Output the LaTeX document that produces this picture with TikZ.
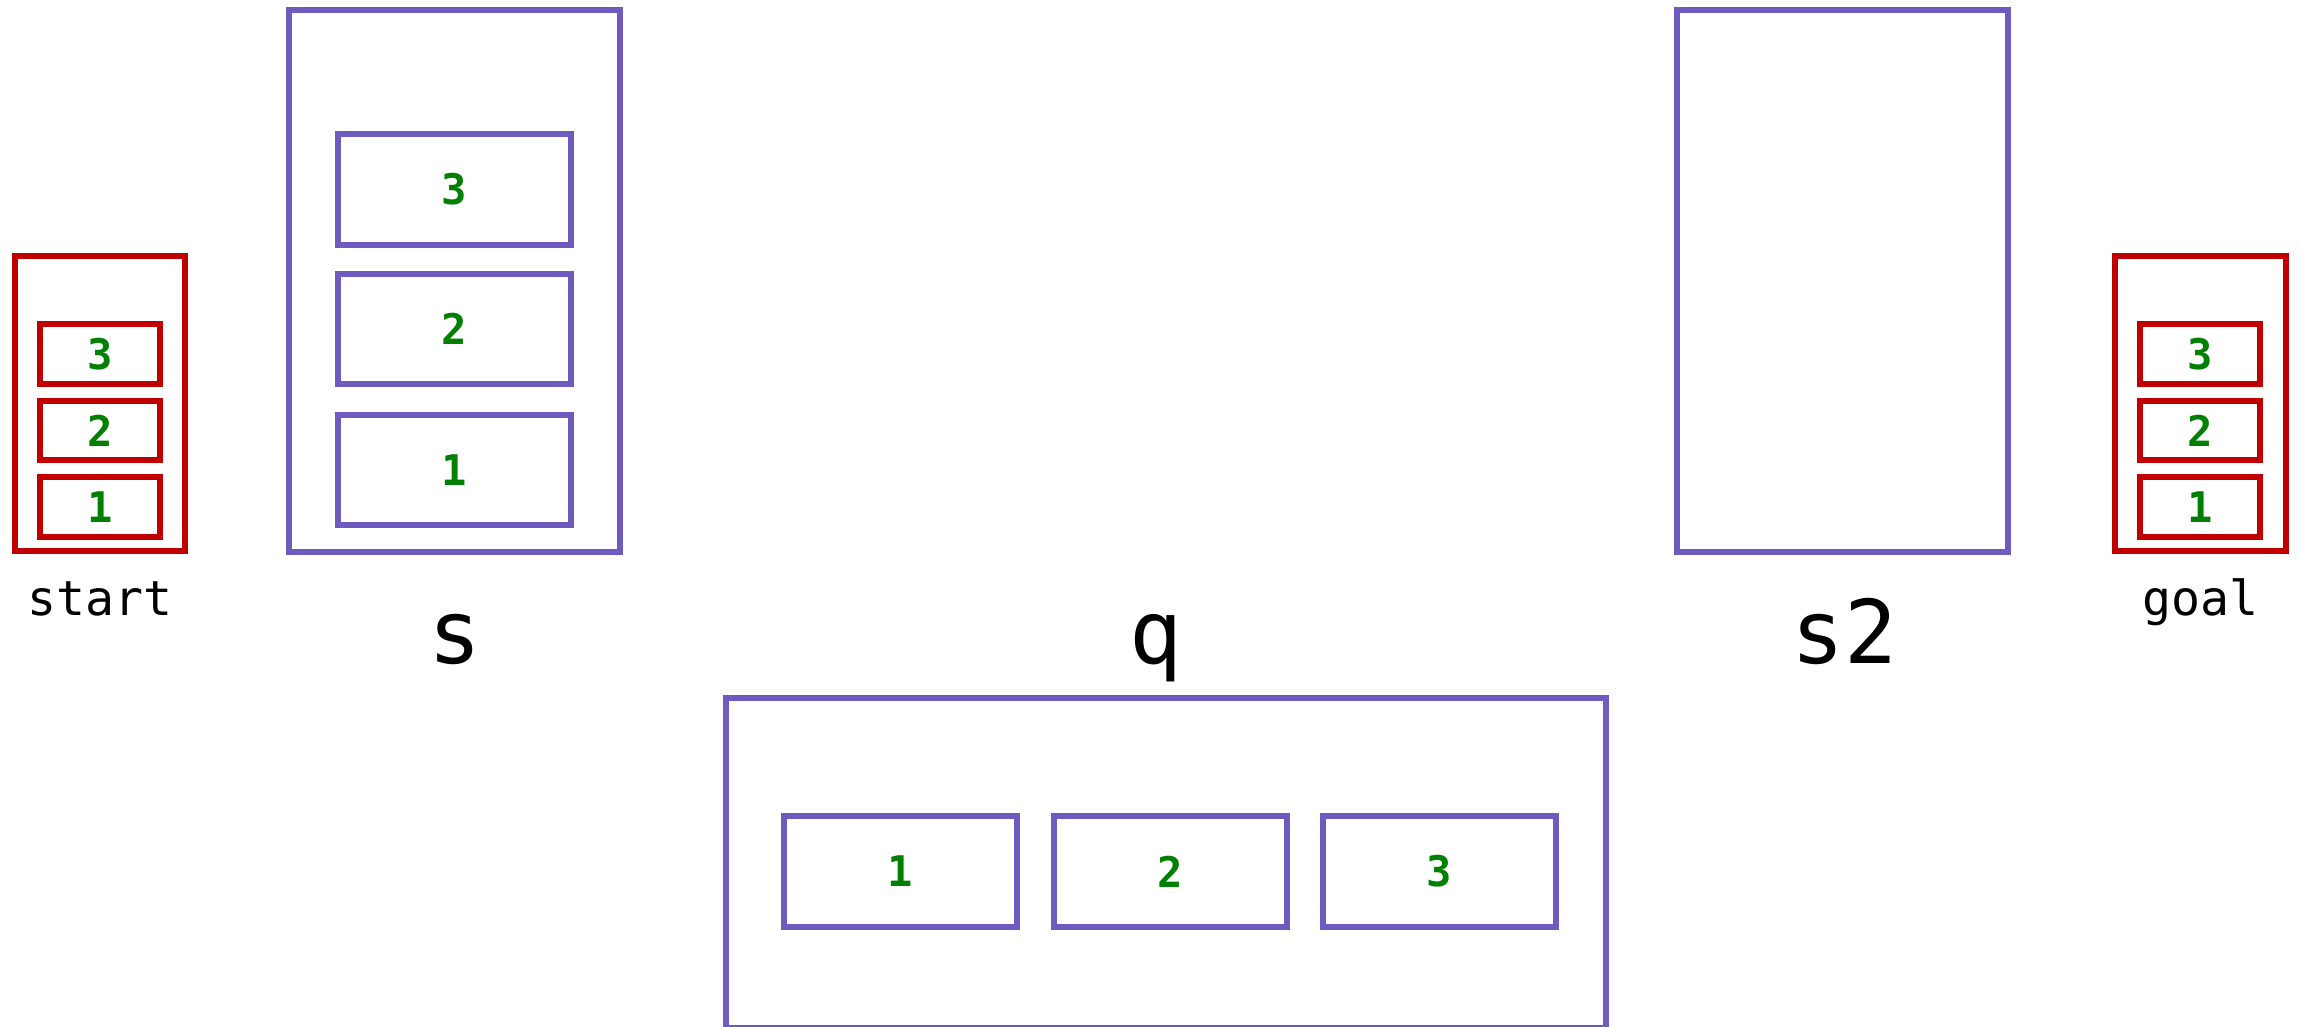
\documentclass[tikz,border=0pt]{standalone}
\usepackage{fontspec}
\setmainfont{DejaVu Sans Mono}
\setmonofont{DejaVu Sans Mono}
\definecolor{boxpurple}{HTML}{6F5BBF}
\definecolor{boxred}{HTML}{C00000}
\definecolor{digitgreen}{HTML}{008000}
\tikzset{
  frame/.style={draw, line width=0.055cm, inner sep=0pt, outer sep=0pt},
  redbox/.style={frame, draw=boxred},
  purplebox/.style={frame, draw=boxpurple},
  digit/.style={text=digitgreen, font=\fontsize{12pt}{14pt}\selectfont\bfseries},
  smalllabel/.style={anchor=base, inner sep=0pt, font=\fontsize{13.7pt}{16pt}\selectfont},
  biglabel/.style={anchor=base, inner sep=0pt, font=\fontsize{25pt}{30pt}\selectfont},
}
\begin{document}
\begin{tikzpicture}[x=0.01cm, y=-0.01cm]
\useasboundingbox[fill=white] (0,0) rectangle (2300,1026);

% start
\node[redbox, minimum width=170*0.01cm, minimum height=295*0.01cm] (start) at (100,403.5) {};
\node[redbox, digit, minimum width=120*0.01cm, minimum height=60*0.01cm] (st3) at (100,354) {3};
\node[redbox, digit, minimum width=120*0.01cm, minimum height=59*0.01cm] (st2) at (100,430.5) {2};
\node[redbox, digit, minimum width=120*0.01cm, minimum height=60*0.01cm] (st1) at (100,507) {1};
\node[smalllabel] (startlbl) at (100,615) {start};

% s
\node[purplebox, minimum width=331*0.01cm, minimum height=542*0.01cm] (s) at (454.5,281) {};
\node[purplebox, digit, minimum width=233*0.01cm, minimum height=111*0.01cm] (s3) at (454.5,189.5) {3};
\node[purplebox, digit, minimum width=233*0.01cm, minimum height=110*0.01cm] (s2b) at (454.5,329) {2};
\node[purplebox, digit, minimum width=233*0.01cm, minimum height=110*0.01cm] (s1) at (454.5,470) {1};
\node[biglabel] (slbl) at (454.5,663) {s};

% q
\node[purplebox, minimum width=880*0.01cm, minimum height=330*0.01cm] (q) at (1166,863) {};
\node[purplebox, digit, minimum width=233*0.01cm, minimum height=111*0.01cm] (q1) at (900.5,871.5) {1};
\node[purplebox, digit, minimum width=233*0.01cm, minimum height=111*0.01cm] (q2) at (1170.5,871.5) {2};
\node[purplebox, digit, minimum width=233*0.01cm, minimum height=111*0.01cm] (q3) at (1439.5,871.5) {3};
\node[biglabel] (qlbl) at (1156,663) {q};

% s2
\node[purplebox, minimum width=331*0.01cm, minimum height=542*0.01cm] (stwo) at (1842.5,281) {};
\node[biglabel] (stwolbl) at (1844,663) {s2};

% goal
\node[redbox, minimum width=171*0.01cm, minimum height=295*0.01cm] (goal) at (2200.5,403.5) {};
\node[redbox, digit, minimum width=120*0.01cm, minimum height=60*0.01cm] (g3) at (2200,354) {3};
\node[redbox, digit, minimum width=120*0.01cm, minimum height=59*0.01cm] (g2) at (2200,430.5) {2};
\node[redbox, digit, minimum width=120*0.01cm, minimum height=60*0.01cm] (g1) at (2200,507) {1};
\node[smalllabel] (goallbl) at (2200,615) {goal};
\end{tikzpicture}
\end{document}
